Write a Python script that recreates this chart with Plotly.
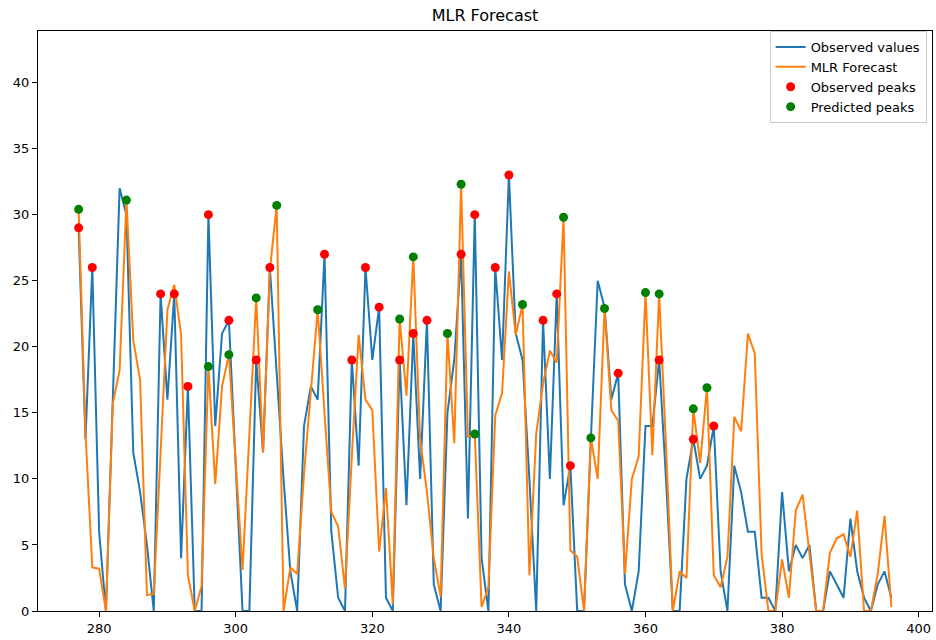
import plotly.graph_objects as go

x_vals = list(range(277, 397))

observed = [
    29, 13, 26, 6, 0, 16, 32, 30, 12, 9,
    5, 0, 24, 16, 24, 4, 17, 0, 0, 30,
    14, 21, 22, 11, 0, 0, 19, 12, 26, 18,
    10, 3, 0, 14, 17, 16, 27, 6, 1, 0,
    19, 11, 26, 19, 23, 1, 0, 19, 8, 21,
    10, 22, 2, 0, 15, 19, 27, 7, 30, 4,
    0, 26, 19, 33, 21, 19, 10, 0, 22, 10,
    24, 8, 11, 0, 0, 13, 25, 23, 16, 18,
    2, 0, 3, 14, 14, 19, 10, 0, 0, 10,
    13, 10, 11, 14, 3, 0, 11, 9, 6, 6,
    1, 1, 0, 9, 3, 5, 4, 5, 0, 0,
    3, 2, 1, 7, 3, 1, 0, 2, 3, 1,
]

forecast = [
    30.4, 13.5, 3.3, 3.2, 0, 15.7, 18.2, 31.1, 20.5, 17.5,
    1.2, 1.3, 12, 22.8, 24.7, 20.9, 2.7, 0, 1.9, 18.5,
    9.6, 17, 19.4, 11, 3.1, 13.4, 23.7, 12, 25.8, 30.7,
    0, 3.3, 2.8, 10.4, 16.9, 22.8, 15, 7.5, 6.4, 1.7,
    11.7, 20.9, 16, 15.2, 4.5, 9.3, 0.5, 22.1, 16.3, 26.8,
    13, 9, 4, 1.1, 21, 12.7, 32.3, 13.2, 13.4, 0.3,
    1.8, 14.8, 16.5, 25.7, 20.9, 23.2, 2.7, 13.4, 17.2, 19.7,
    18.8, 29.8, 4.6, 4.1, 0, 13.1, 10, 22.9, 15.2, 14.4,
    2.8, 10, 11.7, 24.1, 11.8, 24, 12.5, 0, 3, 2.5,
    15.3, 11.2, 16.9, 2.7, 1.8, 4.1, 14.7, 13.6, 21, 19.5,
    4.3, 0, 0, 3.9, 1, 7.6, 8.8, 4.3, 0, 0,
    4.4, 5.5, 5.8, 4.1, 7.6, 0, 0, 2.8, 7.2, 0.3,
]

observed_peak_x = [277, 279, 289, 291, 293, 296, 299, 303, 305, 313, 317, 319, 321,
                   324, 326, 328, 333, 335, 338, 340, 345, 347, 349, 356, 362, 367, 370]
predicted_peak_x = [277, 284, 296, 299, 303, 306, 312, 324, 326, 331, 333, 335, 342,
                    348, 352, 354, 360, 362, 367, 369]

x_ticks = [280, 300, 320, 340, 360, 380, 400]
y_ticks = [0, 5, 10, 15, 20, 25, 30, 35, 40]

obs_peak_y = [observed[x_vals.index(p)] for p in observed_peak_x]
pred_peak_y = [forecast[x_vals.index(p)] for p in predicted_peak_x]

fig = go.Figure()
fig.add_trace(go.Scatter(x=x_vals, y=observed, mode="lines", name="Observed values",
                         line=dict(color="#1f77b4", width=2)))
fig.add_trace(go.Scatter(x=x_vals, y=forecast, mode="lines", name="MLR Forecast",
                         line=dict(color="#ff7f0e", width=2)))
fig.add_trace(go.Scatter(x=observed_peak_x, y=obs_peak_y, mode="markers", name="Observed peaks",
                         marker=dict(color="red", size=9), cliponaxis=False))
fig.add_trace(go.Scatter(x=predicted_peak_x, y=pred_peak_y, mode="markers", name="Predicted peaks",
                         marker=dict(color="green", size=9), cliponaxis=False))

axis_common = dict(showline=True, mirror=True, linecolor="black", linewidth=1,
                   ticks="outside", ticklen=5, tickcolor="black", tickwidth=1,
                   showgrid=False, zeroline=False,
                   tickfont=dict(family="DejaVu Sans", size=13, color="black"))

fig.update_layout(
    width=936, height=640,
    margin=dict(l=38, r=4, t=31, b=29),
    paper_bgcolor="white", plot_bgcolor="white",
    font=dict(family="DejaVu Sans", size=13, color="black"),
    title=dict(text="MLR Forecast", x=0.5, xref="paper", xanchor="center",
               y=1 - 15 / 640, yref="container", yanchor="middle",
               font=dict(family="DejaVu Sans", size=16, color="black")),
    xaxis=dict(range=[271.05, 401.95], tickvals=x_ticks, **axis_common),
    yaxis=dict(range=[0, 43.9], tickvals=y_ticks, **axis_common),
    legend=dict(x=0.994, y=1.0, xanchor="right", yanchor="top",
                bgcolor="white", bordercolor="#cccccc", borderwidth=1,
                font=dict(family="DejaVu Sans", size=13, color="black"),
                tracegroupgap=0, itemwidth=30),
    showlegend=True,
)

fig.write_html("out.html")
